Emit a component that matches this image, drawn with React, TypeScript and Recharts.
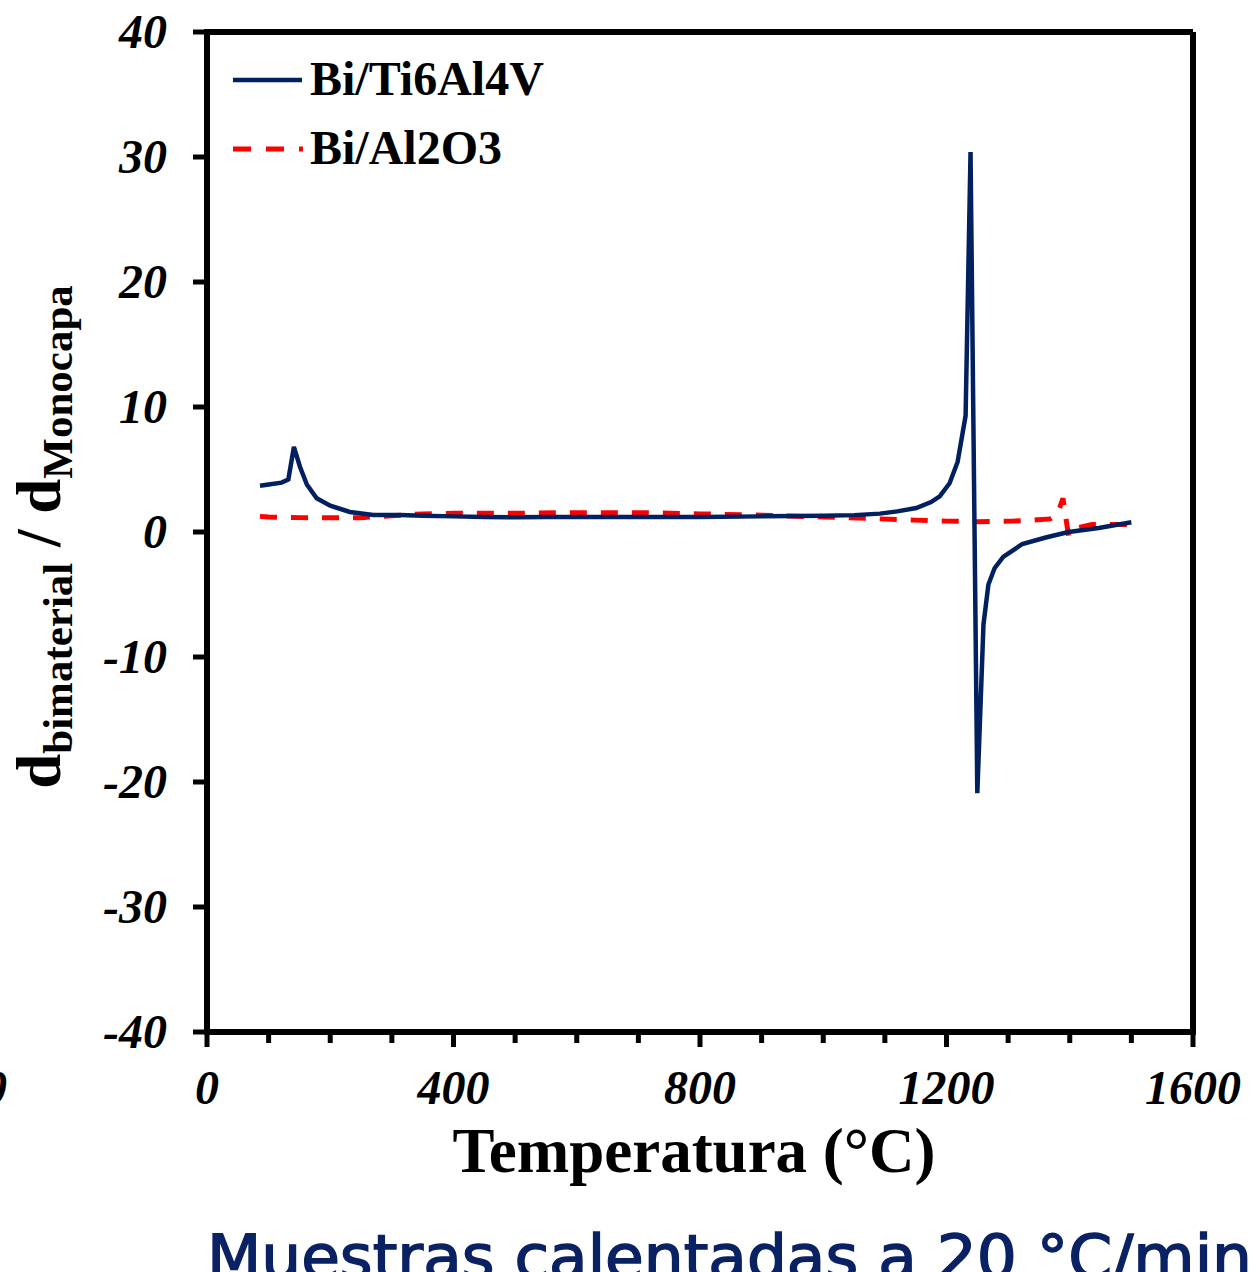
import { Legend, Line, LineChart, ReferenceLine, XAxis, YAxis } from "recharts";

// Bi/Ti6Al4V
const tempTi = [
  86, 100, 121, 132, 141, 151, 162, 178, 200, 232, 270, 313, 350, 400, 450, 500,
  550, 600, 700, 800, 900, 1000, 1050, 1092, 1120, 1151, 1175, 1189, 1205, 1218,
  1231, 1239, 1250, 1260, 1268, 1278, 1292, 1323, 1361, 1398, 1447, 1500,
];
const ratioTi = [
  3.7, 3.8, 3.95, 4.2, 6.8, 5.2, 3.8, 2.7, 2.1, 1.6, 1.36, 1.36, 1.3, 1.25, 1.2, 1.18,
  1.2, 1.2, 1.2, 1.2, 1.25, 1.3, 1.35, 1.47, 1.65, 1.92, 2.4, 2.86, 3.9, 5.6,
  9.3, 30.4, -20.9, -7.4, -4.2, -2.9, -2.0, -0.96, -0.44, 0, 0.32, 0.78,
];

// Bi/Al2O3
const tempAl = [
  86, 100, 150, 200, 250, 300, 350, 400, 500, 600, 700, 800, 900, 1000, 1038, 1092,
  1150, 1200, 1250, 1307, 1340, 1368, 1380, 1389, 1398, 1410, 1436, 1470, 1500,
];
const ratioAl = [
  1.25, 1.2, 1.15, 1.15, 1.15, 1.3, 1.45, 1.5, 1.5, 1.55, 1.55, 1.45, 1.35, 1.2, 1.15, 1.05,
  0.95, 0.87, 0.82, 0.87, 0.95, 1.05, 1.4, 2.7, -0.3, 0.3, 0.6, 0.6, 0.6,
];

const xTicks = [0, 100, 200, 300, 400, 500, 600, 700, 800, 900, 1000, 1100, 1200, 1300, 1400, 1500, 1600];
const yTicks = [-40, -30, -20, -10, 0, 10, 20, 30, 40];

const tiData = tempTi.map((t, i) => ({ t, r: ratioTi[i] }));
const alData = tempAl.map((t, i) => ({ t, r: ratioAl[i] }));

const NAVY = "#002060";
const RED = "#ff0000";
const SERIF = '"Liberation Serif", "Times New Roman", serif';

function XTick({ x, y, payload }: any) {
  const major = payload.value % 400 === 0;
  return (
    <g>
      <line x1={x} x2={x} y1={y} y2={y + (major ? 15 : 11)} stroke="#000" strokeWidth={5} />
      {major && (
        <text
          x={x}
          y={y + 72}
          textAnchor="middle"
          fontFamily={SERIF}
          fontStyle="italic"
          fontWeight="bold"
          fontSize={48}
          fill="#000"
        >
          {payload.value}
        </text>
      )}
    </g>
  );
}

function YTick({ x, y, payload }: any) {
  return (
    <g>
      <line x1={x - 14} x2={x} y1={y} y2={y} stroke="#000" strokeWidth={5} />
      <text
        x={x - 40}
        y={y + 16}
        textAnchor="end"
        fontFamily={SERIF}
        fontStyle="italic"
        fontWeight="bold"
        fontSize={48}
        fill="#000"
      >
        {payload.value}
      </text>
    </g>
  );
}

function YLabel({ viewBox }: any) {
  const cx = viewBox.x + 60;
  const cy = viewBox.y + viewBox.height / 2 + 5;
  return (
    <text
      x={cx}
      y={cy}
      textAnchor="middle"
      transform={`rotate(-90, ${cx}, ${cy})`}
      fontFamily={SERIF}
      fontWeight="bold"
      fill="#000"
    >
      <tspan fontSize={63}>d</tspan>
      <tspan fontSize={43} dy={12}>bimaterial</tspan>
      <tspan fontSize={63} dy={-12}>{" / d"}</tspan>
      <tspan fontSize={43} dy={12}>Monocapa</tspan>
    </text>
  );
}

function XLabel({ viewBox }: any) {
  return (
    <text
      x={viewBox.x + viewBox.width / 2 - 6}
      y={viewBox.y + 140}
      textAnchor="middle"
      fontFamily={SERIF}
      fontWeight="bold"
      fontSize={63}
      fill="#000"
    >
      Temperatura (°C)
    </text>
  );
}

function LegendBox() {
  return (
    <svg width={340} height={140}>
      <line x1={8} x2={77} y1={35} y2={35} stroke={NAVY} strokeWidth={4.5} />
      <text x={85} y={50} fontFamily={SERIF} fontWeight="bold" fontSize={48} fill="#000">
        Bi/Ti6Al4V
      </text>
      <line x1={8} x2={78} y1={104} y2={104} stroke={RED} strokeWidth={5} strokeDasharray="18 15" />
      <text x={85} y={119} fontFamily={SERIF} fontWeight="bold" fontSize={48} fill="#000">
        Bi/Al2O3
      </text>
    </svg>
  );
}

export default function App() {
  return (
    <div style={{ position: "absolute", left: 0, top: 0, width: 1260, height: 1272, background: "#fff", overflow: "hidden" }}>
      <LineChart width={1260} height={1272} margin={{ top: 32, right: 67, left: 0, bottom: 0 }}>
        <XAxis
          type="number"
          dataKey="t"
          domain={[0, 1600]}
          ticks={xTicks}
          interval={0}
          height={240}
          tickSize={0}
          tickMargin={0}
          tickLine={false}
          tick={<XTick />}
          axisLine={{ stroke: "#000", strokeWidth: 6, strokeLinecap: "square" }}
          label={{ content: (p: any) => <XLabel {...p} /> }}
        />
        <YAxis
          type="number"
          domain={[-40, 40]}
          ticks={yTicks}
          interval={0}
          width={207}
          tickSize={0}
          tickMargin={0}
          tickLine={false}
          tick={<YTick />}
          axisLine={{ stroke: "#000", strokeWidth: 6, strokeLinecap: "square" }}
          label={{ content: (p: any) => <YLabel {...p} /> }}
        />
        <ReferenceLine y={40} stroke="#000" strokeWidth={6} />
        <ReferenceLine x={1600} stroke="#000" strokeWidth={6} />
        <Legend
          layout="horizontal"
          verticalAlign="middle"
          align="center"
          wrapperStyle={{ left: 225, top: 45, width: 340, height: 140 }}
          content={() => <LegendBox />}
        />
        <Line
          data={alData}
          dataKey="r"
          type="linear"
          stroke={RED}
          strokeWidth={5}
          strokeDasharray="17 14"
          dot={false}
          activeDot={false}
          isAnimationActive={false}
        />
        <Line
          data={tiData}
          dataKey="r"
          type="linear"
          stroke={NAVY}
          strokeWidth={4.5}
          dot={false}
          activeDot={false}
          isAnimationActive={false}
        />
      </LineChart>
      <svg
        width={1260}
        height={1272}
        style={{ position: "absolute", left: 0, top: 0, pointerEvents: "none" }}
      >
        <text
          x={7}
          y={1104}
          textAnchor="end"
          fontFamily={SERIF}
          fontStyle="italic"
          fontWeight="bold"
          fontSize={48}
          fill="#000"
        >
          0
        </text>
        <text
          x={207}
          y={1278}
          fontFamily='"DejaVu Sans", sans-serif'
          fontSize={60}
          fill="#0a2263"
          stroke="#0a2263"
          strokeWidth={1.5}
          textLength={1045}
          lengthAdjust="spacingAndGlyphs"
        >
          Muestras calentadas a 20 °C/min
        </text>
      </svg>
    </div>
  );
}
